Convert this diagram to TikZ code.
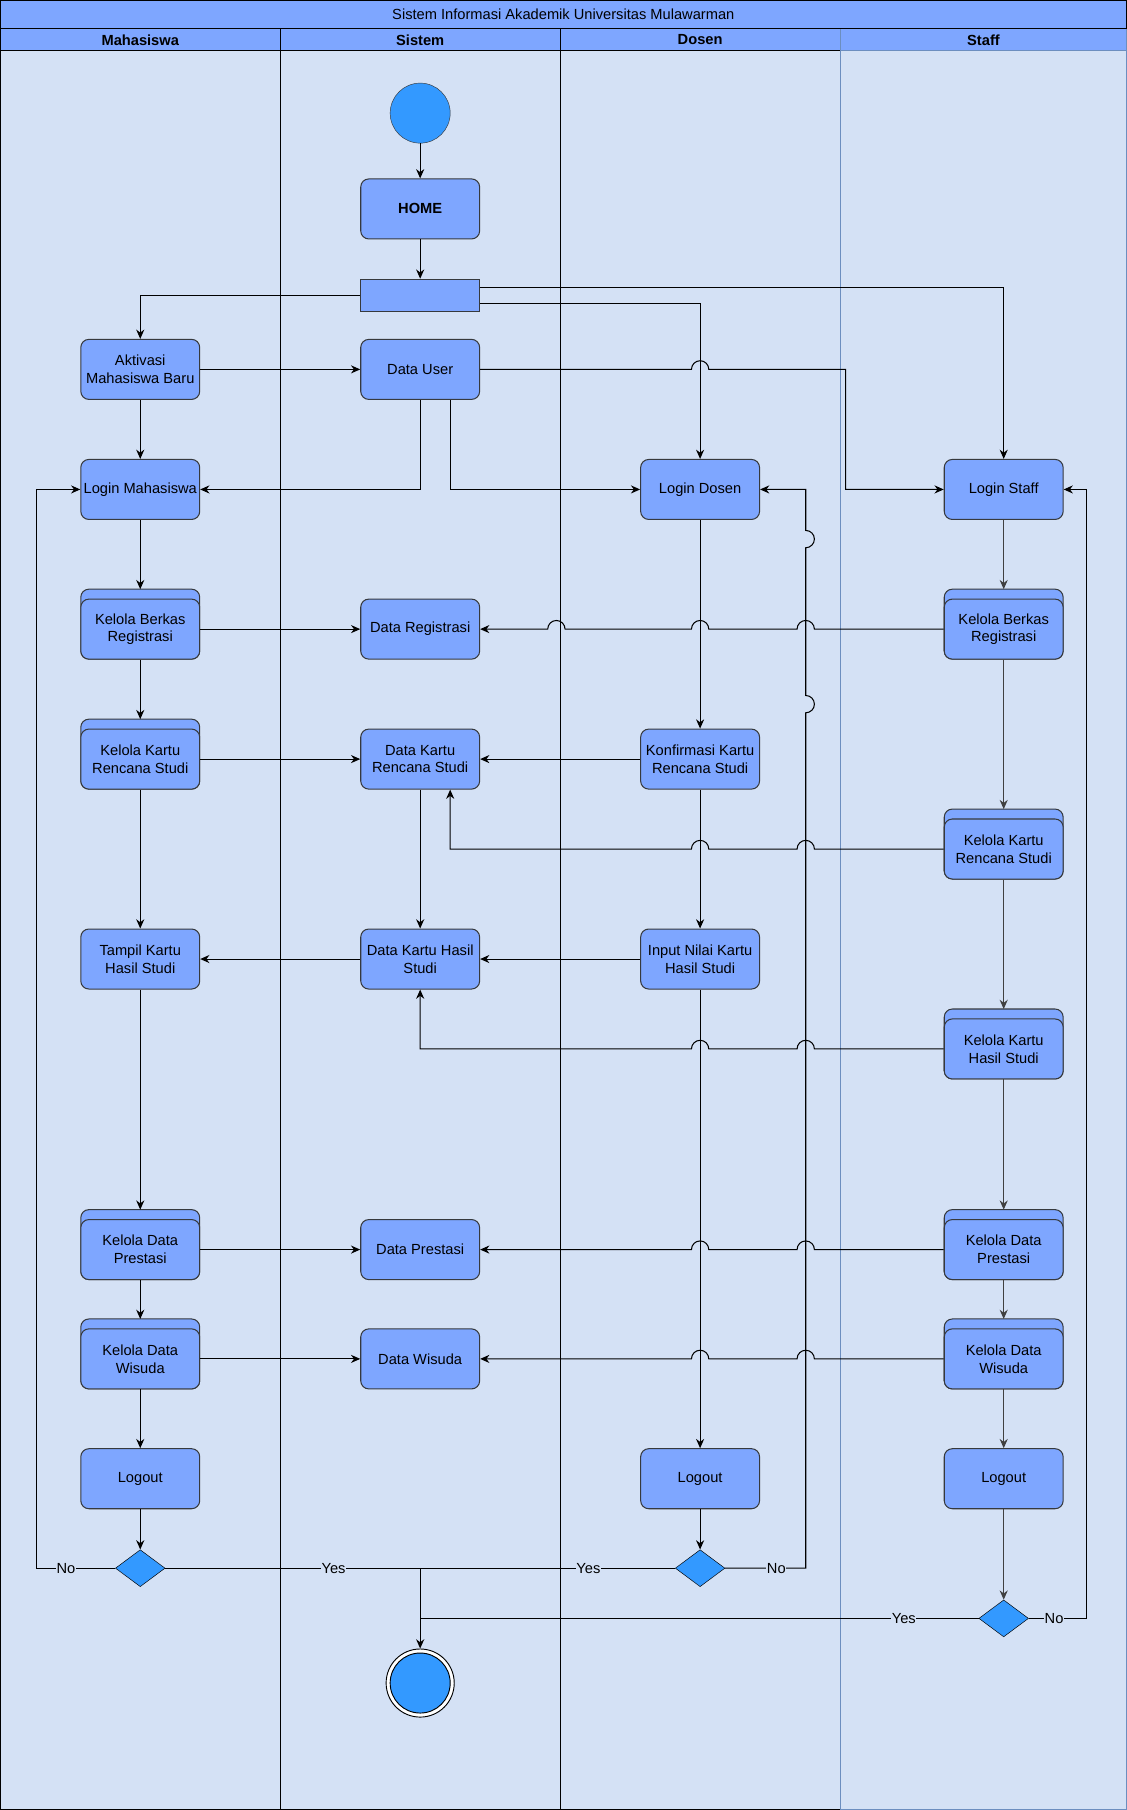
\documentclass[tikz,border=0pt]{standalone}
\usepackage{fontspec}
\setmainfont{Liberation Sans}
\usetikzlibrary{arrows.meta,shapes.geometric}
\definecolor{lanefill}{HTML}{D4E1F5}
\definecolor{actfill}{HTML}{7EA6FF}
\definecolor{actline}{HTML}{36393D}
\definecolor{dotfill}{HTML}{3399FF}
\definecolor{staffline}{HTML}{6C8EBF}
\tikzset{
  act/.style={draw=actline, fill=actfill, rounded corners=7pt, line width=0.9pt, minimum width=103pt, minimum height=52pt, align=center, inner sep=1pt},
  flow/.style={-{Stealth[length=8pt,width=7pt]}, line width=0.9pt},
  flowS/.style={flow, draw=black!75},
  plain/.style={line width=0.9pt},
  decide/.style={diamond, draw=black, fill=dotfill, minimum width=43pt, minimum height=32pt, inner sep=0pt},
  lbl/.style={fill=lanefill, inner sep=0.5pt},
}
\def\stackact#1(#2,#3)#4{\draw[draw=actline, fill=actfill, rounded corners=7pt, line width=0.9pt] ({#2-51.5},{#3-34.6}) rectangle ({#2+51.5},{#3+26});
  \node[act] (#1) at (#2,#3) {#4};
  \coordinate (#1-top) at (#2,{#3-34.6});}

\begin{document}
\begin{tikzpicture}[x=1pt, y=-1pt, font=\fontsize{12.7}{15.4}\selectfont]
		%%%%% START %%%%%
		\useasboundingbox (0,0) rectangle (976,1568);
		
		% lanes
		\draw[fill=actfill, line width=0.9pt] (0.5,24.5) rectangle (243,44);
		\draw[fill=lanefill, line width=0.9pt] (0.5,44) rectangle (243,1567.5);
		\draw[fill=actfill, line width=0.9pt] (243,24.5) rectangle (485.5,44);
		\draw[fill=lanefill, line width=0.9pt] (243,44) rectangle (485.5,1567.5);
		\draw[fill=actfill, line width=0.9pt] (485.5,24.5) rectangle (728,44);
		\draw[fill=lanefill, line width=0.9pt] (485.5,44) rectangle (728,1567.5);
		\draw[fill=actfill, draw=staffline, line width=0.9pt] (728,24.5) rectangle (975.5,44);
		\draw[fill=lanefill, draw=staffline, line width=0.9pt] (728,44) rectangle (975.5,1567.5);
		\draw[fill=actfill, line width=0.9pt] (0.5,0.5) rectangle (975.5,24.5);
		\node (title) at (488,12.5) {Sistem Informasi Akademik Universitas Mulawarman};
		\node[font=\fontsize{12.7}{15.4}\selectfont\bfseries] (hMhs) at (121.5,34.5) {Mahasiswa};
		\node[font=\fontsize{12.7}{15.4}\selectfont\bfseries] (hSis) at (364,34.5) {Sistem};
		\node[font=\fontsize{12.7}{15.4}\selectfont\bfseries] (hDos) at (606.5,34.5) {Dosen};
		\node[font=\fontsize{12.7}{15.4}\selectfont\bfseries] (hStf) at (852,34.5) {Staff};
		
		% start, home, fork
		\node[circle, draw=actline, fill=dotfill, minimum size=52pt, inner sep=0pt] (start) at (364,98) {};
		\node[act, font=\fontsize{12.7}{15.4}\selectfont\bfseries] (home) at (364,181) {HOME};
		\node[draw=actline, fill=actfill, line width=0.9pt, minimum width=103pt, minimum height=27.7pt, inner sep=0pt] (bar) at (364,255.75) {};
		
		% Mahasiswa
		\node[act] (aktivasi) at (121.5,320) {Aktivasi\\Mahasiswa Baru};
		\node[act] (loginM) at (121.5,424) {Login Mahasiswa};
		\stackact{berkasM}(121.5,545){Kelola Berkas\\Registrasi}
		\stackact{krsM}(121.5,657.6){Kelola Kartu\\Rencana Studi}
		\node[act] (tampil) at (121.5,830.8) {Tampil Kartu\\Hasil Studi};
		\stackact{prestasiM}(121.5,1082.5){Kelola Data\\Prestasi}
		\stackact{wisudaM}(121.5,1177.2){Kelola Data\\Wisuda}
		\node[act] (logoutM) at (121.5,1281) {Logout};
		\node[decide] (decM) at (121.5,1358.5) {};
		
		% Sistem
		\node[act] (dataUser) at (364,320) {Data User};
		\node[act] (dataReg) at (364,545) {Data Registrasi};
		\node[act] (dataKRS) at (364,657.6) {Data Kartu\\Rencana Studi};
		\node[act] (dataKHS) at (364,830.8) {Data Kartu Hasil\\Studi};
		\node[act] (dataPrestasi) at (364,1082.5) {Data Prestasi};
		\node[act] (dataWisuda) at (364,1177.2) {Data Wisuda};
		\node[circle, draw=black, fill=white, minimum size=59pt, inner sep=0pt, line width=0.8pt] (endRing) at (364,1458) {};
		\node[circle, draw=black, fill=dotfill, minimum size=52pt, inner sep=0pt, line width=0.8pt] (endDot) at (364,1458) {};
		\coordinate (joinYes) at (364,1358.5);
		\coordinate (joinStaff) at (364,1402);
		
		% Dosen
		\node[act] (loginD) at (606.5,424) {Login Dosen};
		\node[act] (konfirmasi) at (606.5,657.6) {Konfirmasi Kartu\\Rencana Studi};
		\node[act] (inputNilai) at (606.5,830.8) {Input Nilai Kartu\\Hasil Studi};
		\node[act] (logoutD) at (606.5,1281) {Logout};
		\node[decide] (decD) at (606.5,1358.5) {};
		
		% Staff
		\node[act] (loginS) at (869.5,424) {Login Staff};
		\stackact{berkasS}(869.5,545){Kelola Berkas\\Registrasi}
		\stackact{krsS}(869.5,735.5){Kelola Kartu\\Rencana Studi}
		\stackact{khsS}(869.5,908.7){Kelola Kartu\\Hasil Studi}
		\stackact{prestasiS}(869.5,1082.5){Kelola Data\\Prestasi}
		\stackact{wisudaS}(869.5,1177.2){Kelola Data\\Wisuda}
		\node[act] (logoutS) at (869.5,1281) {Logout};
		\node[decide] (decS) at (869.5,1402) {};
		
		% flows from the top
		\draw[flow] (start) -- (home);
		\draw[flow] (home) -- (bar);
		\draw[flow] (bar.west) -| (aktivasi.north);
		\draw[flow] ([yshift=-7pt]bar.east) -| (loginD.north);
		\draw[flow] ([yshift=7pt]bar.east) -| (loginS.north);
		\draw[flow] (aktivasi) -- (dataUser);
		\draw[flow] (aktivasi) -- (loginM);
		\draw[flow] (dataUser.south) |- (loginM.east);
		\draw[flow] ([xshift=26pt]dataUser.south) |- (loginD.west);
		\draw[flow] (dataUser.east) -- (599,320) arc[start angle=180,end angle=0,radius=7.5pt] -- (732.5,320) |- (loginS.west);
		
		% Mahasiswa flows
		\draw[flow] (loginM) -- (berkasM-top);
		\draw[flow] (berkasM) -- (dataReg);
		\draw[flow] (berkasM) -- (krsM-top);
		\draw[flow] (krsM) -- (dataKRS);
		\draw[flow] (krsM) -- (tampil);
		\draw[flow] (tampil) -- (prestasiM-top);
		\draw[flow] (prestasiM) -- (dataPrestasi);
		\draw[flow] (prestasiM) -- (wisudaM-top);
		\draw[flow] (wisudaM) -- (dataWisuda);
		\draw[flow] (wisudaM) -- (logoutM);
		\draw[flow] (logoutM) -- (decM);
		\draw[flow] (decM.west) -- node[lbl, pos=0.63] {No} (32,1358.5) |- (loginM.west);
		
		% Dosen flows
		\draw[flow] (loginD) -- (konfirmasi);
		\draw[flow] (konfirmasi) -- (inputNilai);
		\draw[flow] (inputNilai) -- (logoutD);
		\draw[flow] (logoutD) -- (decD);
		\draw[flow] (konfirmasi) -- (dataKRS);
		\draw[flow] (inputNilai) -- (dataKHS);
		\draw[flow] (dataKRS) -- (dataKHS);
		\draw[flow] (dataKHS) -- (tampil);
		\draw[flow] (decD.east) -- node[lbl, pos=0.635] {No} (698,1358.5) -- (698,617.5) arc[start angle=-90,end angle=90,radius=7.5pt] -- (698,474.5) arc[start angle=-90,end angle=90,radius=7.5pt] |- (loginD.east);
		
		% Staff flows
		\draw[flowS] (loginS) -- (berkasS-top);
		\draw[flowS] (berkasS) -- (krsS-top);
		\draw[flowS] (krsS) -- (khsS-top);
		\draw[flowS] (khsS) -- (prestasiS-top);
		\draw[flowS] (prestasiS) -- (wisudaS-top);
		\draw[flowS] (wisudaS) -- (logoutS);
		\draw[flowS] (logoutS) -- (decS);
		\draw[flow] (decS.east) -- node[lbl, pos=0.44] {No} (941,1402) |- (loginS.east);
		\draw[flow] (berkasS.west) -- (705.5,545) arc[start angle=0,end angle=180,radius=7.5pt] -- (614,545) arc[start angle=0,end angle=180,radius=7.5pt] -- (489.5,545) arc[start angle=0,end angle=180,radius=7.5pt] -- (dataReg.east);
		\draw[flow] (krsS.west) -- (705.5,735.5) arc[start angle=0,end angle=180,radius=7.5pt] -- (614,735.5) arc[start angle=0,end angle=180,radius=7.5pt] -- (390,735.5) -- ([xshift=26pt]dataKRS.south);
		\draw[flow] (khsS.west) -- (705.5,908.7) arc[start angle=0,end angle=180,radius=7.5pt] -- (614,908.7) arc[start angle=0,end angle=180,radius=7.5pt] -- (364,908.7) -- (dataKHS.south);
		\draw[flow] (prestasiS.west) -- (705.5,1082.5) arc[start angle=0,end angle=180,radius=7.5pt] -- (614,1082.5) arc[start angle=0,end angle=180,radius=7.5pt] -- (dataPrestasi.east);
		\draw[flow] (wisudaS.west) -- (705.5,1177.2) arc[start angle=0,end angle=180,radius=7.5pt] -- (614,1177.2) arc[start angle=0,end angle=180,radius=7.5pt] -- (dataWisuda.east);
		
		% decisions to the end
		\draw[plain] (decM.east) -- node[lbl, pos=0.66] {Yes} (joinYes);
		\draw[plain] (decD.west) -- node[lbl, pos=0.34] {Yes} (joinYes);
		\draw[plain] (decS.west) -- node[lbl, pos=0.134] {Yes} (joinStaff);
		\draw[flow] (joinYes) -- (endRing);
		
		%%%%% END %%%%%
	\end{tikzpicture}
\end{document}
